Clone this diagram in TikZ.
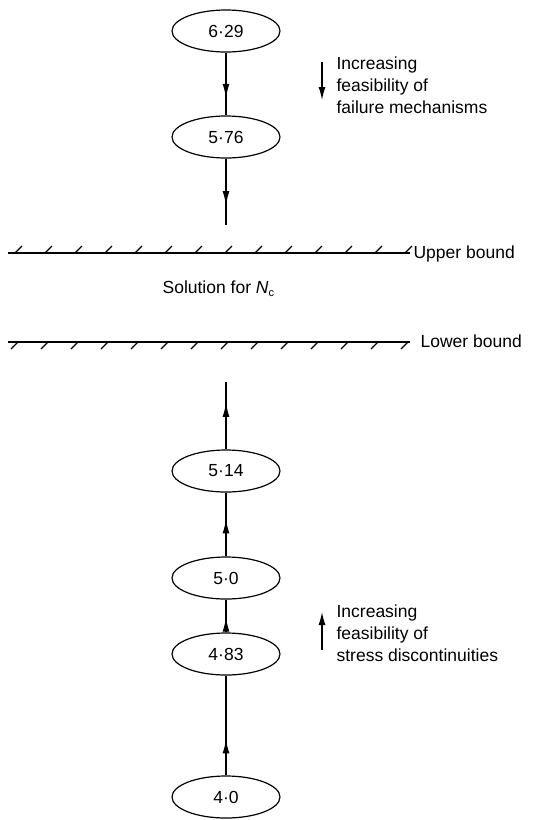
\documentclass[tikz,border=0pt]{standalone}
\usepackage{fontspec}
\setmainfont{Liberation Sans}
\usetikzlibrary{shapes.geometric,arrows.meta,decorations.markings}

\begin{document}
\begin{tikzpicture}[x=1pt,y=-1pt,
  line width=1.2pt,
  every node/.style={font=\fontsize{17.5}{22}\selectfont},
  valbox/.style={draw, ellipse, minimum width=108pt, minimum height=42pt, inner sep=0pt},
  tipat/.style={postaction={decorate,decoration={markings,
      mark=at position #1 with {\arrow{Latex[length=14pt,width=7pt]}}}}},
  note/.style={anchor=north west, inner sep=0pt, align=left},
  boundlabel/.style={anchor=base west, inner sep=0pt},
  hint/.style={-{Latex[length=13pt,width=7pt]}}
]
\useasboundingbox (0,0) rectangle (556,820);

% upper chain (failure mechanisms)
\node[valbox] (a) at (226,31) {6·29};
\node[valbox] (b) at (226,137) {5·76};
\coordinate (bend) at (226,225);

% lower chain (stress discontinuities)
\node[valbox] (c) at (226,471) {5·14};
\node[valbox] (d) at (226,578) {5·0};
\node[valbox] (e) at (226,654) {4·83};
\node[valbox] (f) at (226,797) {4·0};
\coordinate (cend) at (226,382);

\draw[tipat=0.72] (a) -- (b);
\draw[tipat=0.70] (b) -- (bend);
\draw[tipat=0.36] (f) -- (e);
\draw[tipat=0.45] (e) -- (d);
\draw[tipat=0.58] (d) -- (c);
\draw[tipat=0.69] (c) -- (cend);

% upper bound line with hatching above
\coordinate (ubl) at (8,253);
\coordinate (ubr) at (410,253);
\draw (ubl) -- (ubr);
\foreach \x in {15,45,...,405} \draw (\x,253) -- ++(7,-7);
\node[boundlabel] (ub) at (413,258) {Upper bound};

% lower bound line with hatching below
\coordinate (lbl) at (8,342);
\coordinate (lbr) at (410,342);
\draw (lbl) -- (lbr);
\foreach \x in {11,41,...,401} \draw (\x,349) -- ++(7,-7);
\node[boundlabel] (lb) at (420,347) {Lower bound};

\node[boundlabel] (sol) at (162,293) {Solution for \textit{N}\raisebox{-0.35ex}{\fontsize{11}{11}\selectfont c}};

% trend notes
\node[note] (n1) at (336,56.5) {Increasing\\feasibility of\\failure mechanisms};
\draw[hint] (322,62) -- (322,100);
\node[note] (n2) at (336,604.5) {Increasing\\feasibility of\\stress discontinuities};
\draw[hint] (322,650) -- (322,612);
\end{tikzpicture}
\end{document}
